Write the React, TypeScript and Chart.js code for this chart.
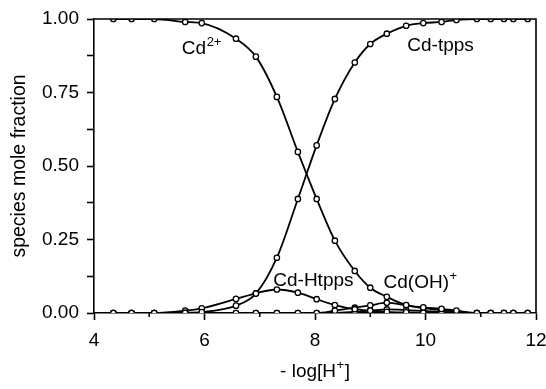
import React, { useEffect, useRef } from "react";
import { Chart, registerables } from "chart.js";

Chart.register(...registerables);

// -log[H+] sample points (shared by all species)
const pH = [4.35, 4.68, 5.09, 5.65, 5.95, 6.57, 6.93, 7.31, 7.69, 8.03, 8.36, 8.72, 9.0, 9.3, 9.65, 9.96, 10.29, 10.56, 10.93, 11.18, 11.42, 11.59, 11.85];

// species mole fractions
const cdFree = [1.0, 1.0, 1.0, 0.99, 0.986, 0.933, 0.872, 0.735, 0.548, 0.388, 0.246, 0.143, 0.086, 0.055, 0.027, 0.019, 0.014, 0.008, 0, 0, 0, 0, 0];
const cdTpps = [0, 0, 0, 0.001, 0.003, 0.025, 0.066, 0.188, 0.388, 0.57, 0.728, 0.852, 0.915, 0.95, 0.977, 0.986, 0.99, 0.997, 1.0, 1.0, 1.0, 1.0, 1.0];
const cdHtpps = [0, 0, 0, 0.008, 0.016, 0.048, 0.067, 0.08, 0.069, 0.047, 0.027, 0.013, 0.008, 0.004, 0.002, 0.001, 0, 0, 0, 0, 0, 0, 0];
const cdOH = [0, 0, 0, 0, 0, 0, 0, 0, 0, 0, 0.008, 0.018, 0.026, 0.035, 0.026, 0.017, 0.01, 0.004, 0, 0, 0, 0, 0];
const cdOH2 = [0, 0, 0, 0, 0, 0, 0, 0, 0, 0, 0, 0.004, 0.008, 0.012, 0.01, 0.007, 0.004, 0.002, 0, 0, 0, 0, 0];

// axis ticks
const xMajorTicks = [4, 6, 8, 10, 12];
const xMinorTicks = [5, 7, 9, 11];
const yTickLabels = ["0.00", "0.25", "0.50", "0.75", "1.00"];

const xTitleMain = "- log[H";
const xTitleSup = "+";
const yTitle = "species mole fraction";

// species labels (main text, superscript, anchor in data units)
const speciesLabels = [
  { main: "Cd", sup: "2+", x: 5.59, y: 0.882 },
  { main: "Cd-tpps", sup: "", x: 9.67, y: 0.89 },
  { main: "Cd-Htpps", sup: "", x: 7.245, y: 0.092 },
  { main: "Cd(OH)", sup: "+", x: 9.24, y: 0.084 },
];

const FONT = "'Liberation Sans', Arial, Helvetica, sans-serif";

function drawSup(ctx: CanvasRenderingContext2D, main: string, sup: string, x: number, y: number, size: number) {
  ctx.font = `${size}px ${FONT}`;
  ctx.textAlign = "left";
  ctx.textBaseline = "alphabetic";
  ctx.fillText(main, x, y);
  if (sup) {
    const w = ctx.measureText(main).width;
    ctx.font = `${Math.round(size * 0.68)}px ${FONT}`;
    ctx.fillText(sup, x + w + 0.5, y - size * 0.42);
  }
}

export default function App() {
  const ref = useRef<HTMLCanvasElement>(null);

  useEffect(() => {
    document.body.style.margin = "0";
    const canvas = ref.current;
    if (!canvas) return;

    const mk = (vals: number[]) => pH.map((x, i) => ({ x, y: vals[i] }));
    const ds = (label: string, vals: number[]) => ({
      label,
      data: mk(vals),
      borderColor: "#000",
      borderWidth: 1.8,
      pointRadius: 2.7,
      pointBorderWidth: 1.3,
      pointBackgroundColor: "#fff",
      pointBorderColor: "#000",
      cubicInterpolationMode: "monotone" as const,
      fill: false,
    });

    const deco = {
      id: "deco",
      afterDraw(chart: any) {
        const { ctx, chartArea, scales } = chart;
        const { left, right, top, bottom } = chartArea;
        const xs = scales.x;
        const ys = scales.y;
        ctx.save();
        ctx.strokeStyle = "#000";
        ctx.lineWidth = 1.6;
        ctx.beginPath();
        ctx.moveTo(left, top);
        ctx.lineTo(right, top);
        ctx.lineTo(right, bottom);
        ctx.stroke();
        // minor x ticks
        ctx.beginPath();
        for (const v of xMinorTicks) {
          const px = xs.getPixelForValue(v);
          ctx.moveTo(px, bottom);
          ctx.lineTo(px, bottom + 4);
        }
        ctx.stroke();
        ctx.fillStyle = "#000";
        for (const l of speciesLabels) {
          drawSup(ctx, l.main, l.sup, xs.getPixelForValue(l.x), ys.getPixelForValue(l.y), 19);
        }
        // x title
        ctx.font = `19px ${FONT}`;
        const mw = ctx.measureText(xTitleMain).width;
        ctx.font = `13px ${FONT}`;
        const sw = ctx.measureText(xTitleSup).width;
        ctx.font = `19px ${FONT}`;
        const bw = ctx.measureText("]").width;
        const total = mw + sw + bw + 1;
        const cx = (left + right) / 2;
        const tx = cx - total / 2;
        const ty = 377;
        ctx.textAlign = "left";
        ctx.textBaseline = "alphabetic";
        ctx.fillText(xTitleMain, tx, ty);
        ctx.font = `13px ${FONT}`;
        ctx.fillText(xTitleSup, tx + mw + 0.5, ty - 8);
        ctx.font = `19px ${FONT}`;
        ctx.fillText("]", tx + mw + sw + 1, ty);
        // y title
        ctx.save();
        ctx.translate(25, (top + bottom) / 2);
        ctx.rotate(-Math.PI / 2);
        ctx.textAlign = "center";
        ctx.textBaseline = "alphabetic";
        ctx.font = `19.5px ${FONT}`;
        ctx.fillText(yTitle, 0, 0);
        ctx.restore();
        ctx.restore();
      },
    };

    const chart = new Chart(canvas, {
      type: "line",
      data: {
        datasets: [
          ds("Cd2+", cdFree),
          ds("Cd-tpps", cdTpps),
          ds("Cd-Htpps", cdHtpps),
          ds("Cd(OH)+", cdOH),
          ds("Cd(OH)2", cdOH2),
        ],
      },
      options: {
        animation: false,
        responsive: false,
        devicePixelRatio: 1,
        layout: { padding: { top: 19, right: 10, left: 0, bottom: 0 } },
        plugins: { legend: { display: false }, tooltip: { enabled: false }, title: { display: false } },
        scales: {
          x: {
            type: "linear",
            min: 4,
            max: 12,
            afterFit: (s: any) => {
              s.height = 76;
              s.paddingLeft = 0;
              s.paddingRight = 0;
            },
            afterBuildTicks: (s: any) => {
              s.ticks = xMajorTicks.map((v) => ({ value: v }));
            },
            grid: { drawOnChartArea: false, tickLength: 7, tickColor: "#000", tickWidth: 1.6 },
            border: { display: true, color: "#000", width: 1.6 },
            ticks: {
              autoSkip: false,
              maxRotation: 0,
              padding: 9,
              color: "#000",
              font: { family: FONT, size: 19 },
              callback: (v: any) => String(v),
            },
          },
          y: {
            type: "linear",
            min: 0,
            max: 1,
            afterFit: (s: any) => {
              s.width = 94;
              s.paddingTop = 0;
              s.paddingBottom = 0;
            },
            grid: { drawOnChartArea: false, tickLength: 7, tickColor: "#000", tickWidth: 1.6 },
            border: { display: true, color: "#000", width: 1.6 },
            ticks: {
              stepSize: 0.125,
              autoSkip: false,
              padding: 8,
              color: "#000",
              font: { family: FONT, size: 19 },
              callback: (v: any) => {
                const q = Number(v) * 4;
                if (Math.abs(q - Math.round(q)) < 1e-6) return yTickLabels[Math.round(q)];
                return "";
              },
            },
          },
        },
      },
      plugins: [deco],
    });

    return () => chart.destroy();
  }, []);

  return (
    <div style={{ position: "absolute", left: 0, top: 0, width: 546, height: 389, background: "#fff" }}>
      <canvas ref={ref} width={546} height={389} style={{ width: 546, height: 389, display: "block" }} />
    </div>
  );
}
